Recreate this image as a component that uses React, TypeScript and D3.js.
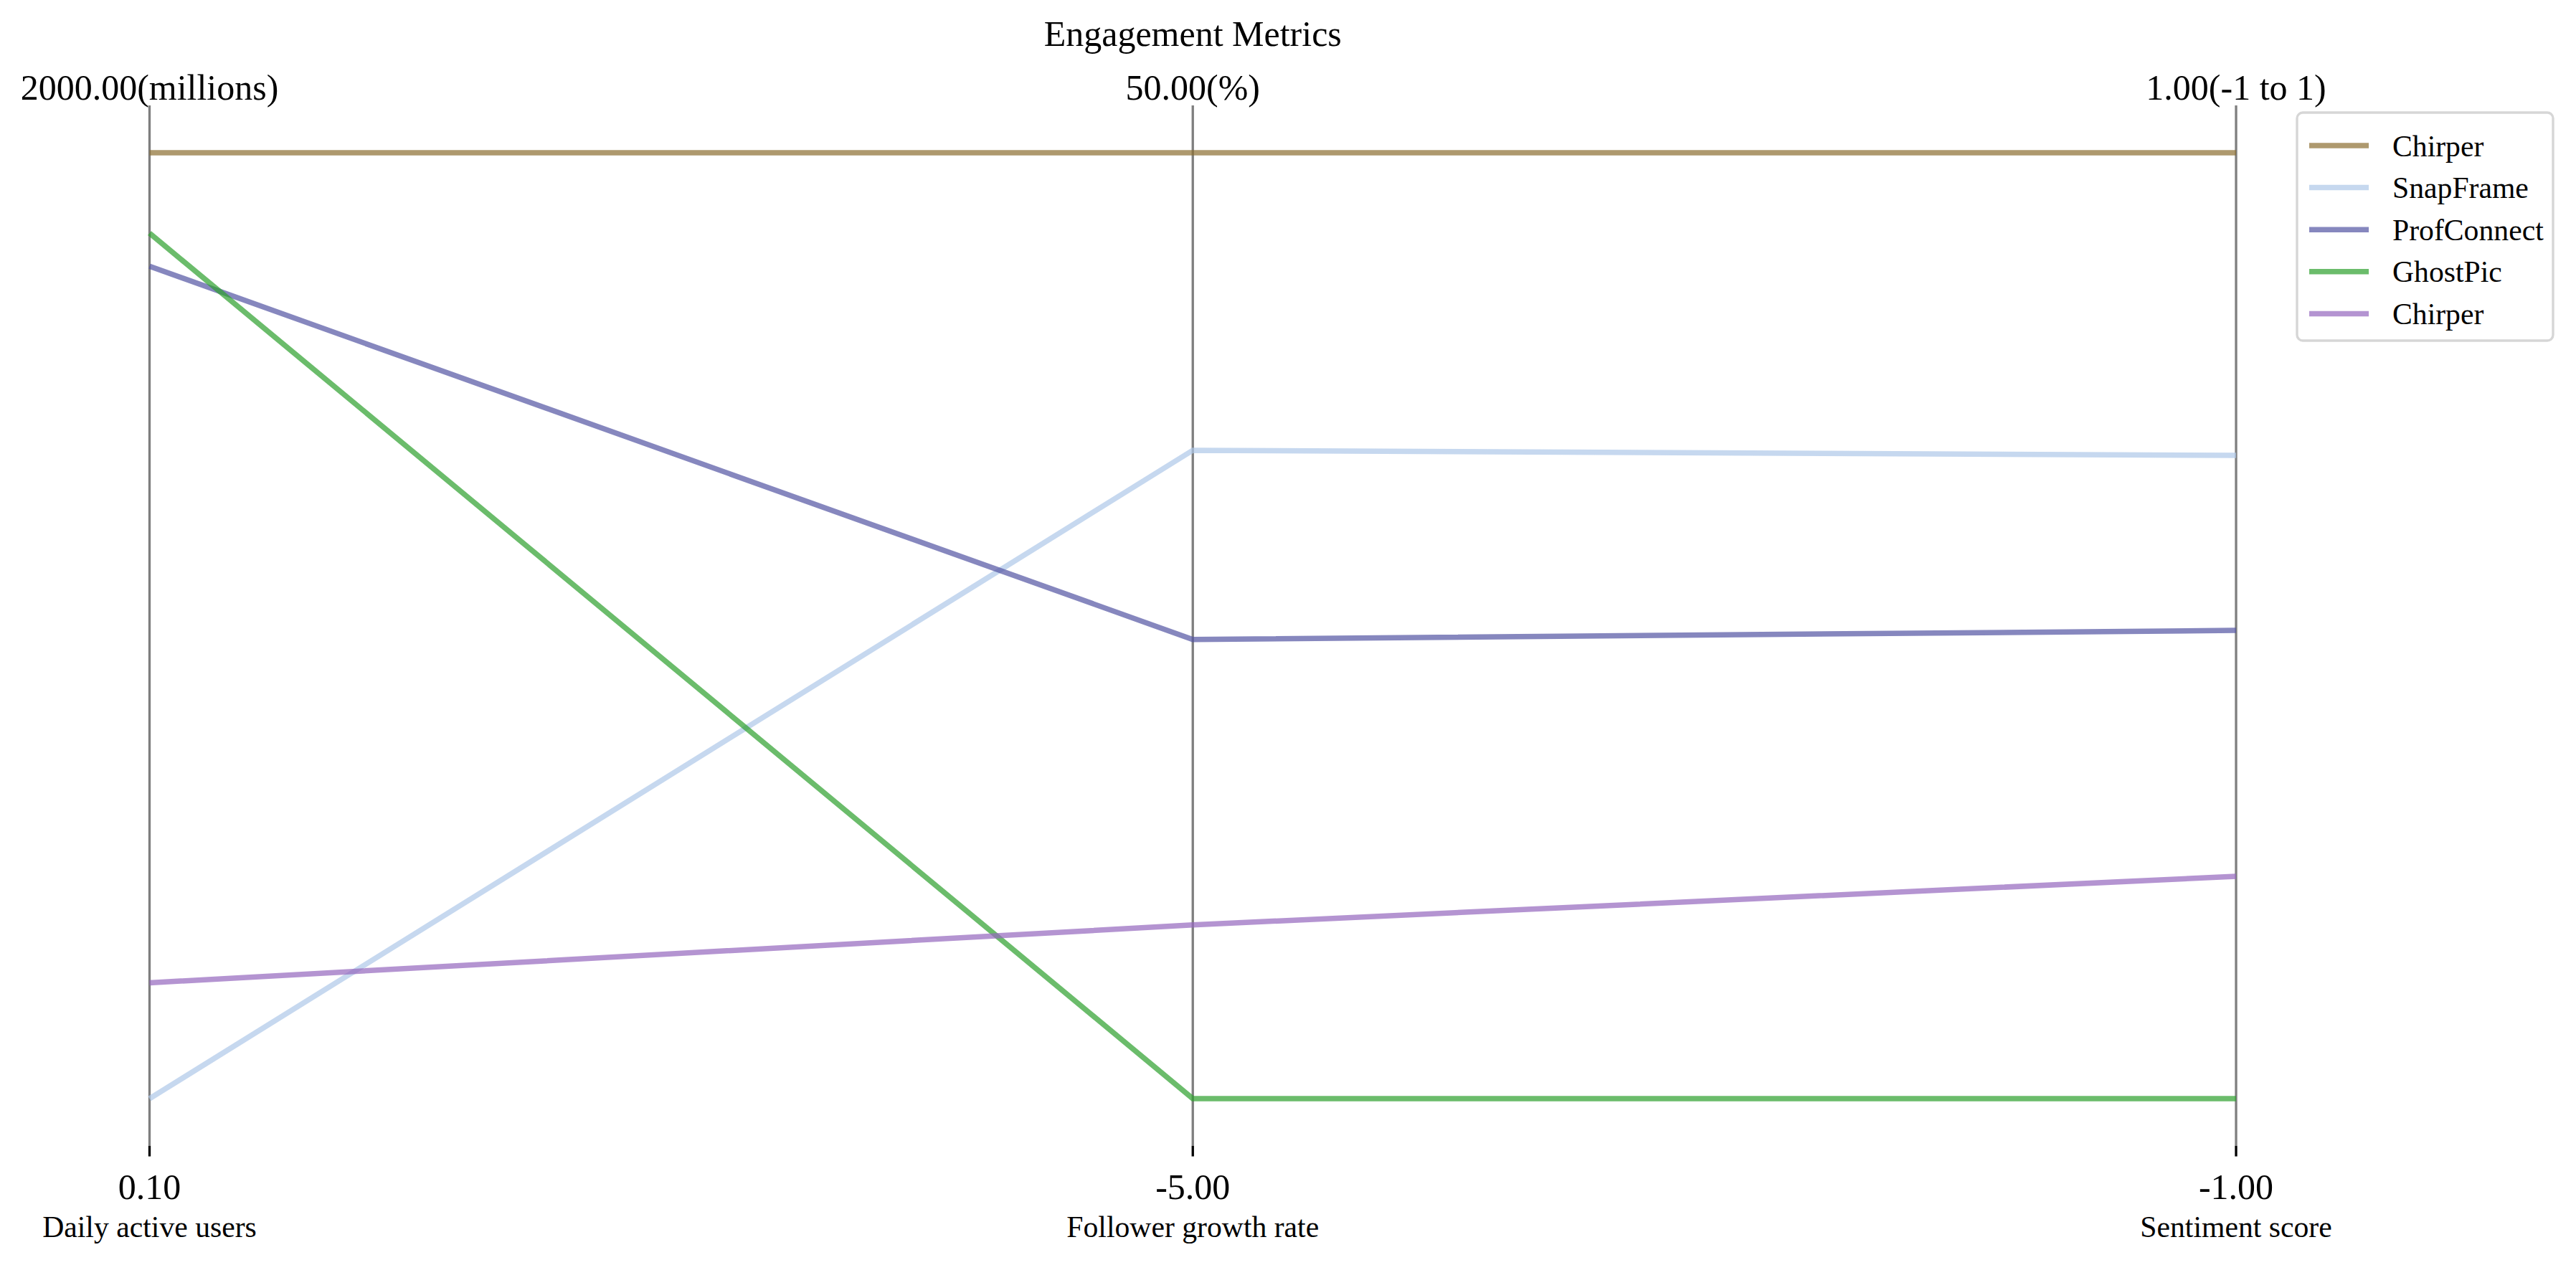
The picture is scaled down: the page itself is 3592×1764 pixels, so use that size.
import React from 'react';
import * as d3 from 'd3';

// data
const platforms = ['Chirper', 'SnapFrame', 'ProfConnect', 'GhostPic', 'Chirper'];
const dailyActiveUsers = [2000, 0.1, 1760, 1830, 245];
const followerGrowth = [50, 32.7, 21.7, -5, 5.1];
const sentiment = [1, 0.36, -0.01, -1, -0.53];

const dimensions = ['Daily active users', 'Follower growth rate', 'Sentiment score'];
const units = ['millions', '%', '-1 to 1'];
const colors = ['#8c6d31', '#aec7e8', '#5254a3', '#2ca02c', '#9467bd'];

const W = 3592;
const H = 1764;
const FONT = '"Liberation Serif", "Times New Roman", serif';

const App = () => {
  const columns = [dailyActiveUsers, followerGrowth, sentiment];

  const x = d3.scalePoint().domain(dimensions).range([208.5, 3118]);

  // one y scale per axis, data spans min..max with a 5% pad for the axis line
  const yTop = 213;
  const yBot = 1532;
  const yScales = columns.map(col =>
    d3.scaleLinear().domain(d3.extent(col) as [number, number]).range([yBot, yTop])
  );
  const pad = (yBot - yTop) * 0.05;

  const rows = platforms.map((name, i) => ({
    name,
    color: colors[i],
    values: columns.map(col => col[i])
  }));

  const line = d3.line<number>()
    .x((d, j) => x(dimensions[j]) as number)
    .y((d, j) => yScales[j](d));

  const legendX = 3203;
  const legendY = 157;
  const rowH = 58.6;

  return (
    <div style={{ position: 'fixed', left: 0, top: 0 }}>
      <svg width={W} height={H} style={{ display: 'block', background: '#fff' }}>
        <text x={x(dimensions[1])} y={64} textAnchor="middle" fontFamily={FONT} fontSize={50}>
          Engagement Metrics
        </text>

        {/* axes */}
        {dimensions.map((dim, j) => {
          const ax = x(dim) as number;
          const [lo, hi] = yScales[j].domain();
          return (
            <g key={dim}>
              <line x1={ax} x2={ax} y1={yTop - pad} y2={yBot + pad} stroke="#000" strokeOpacity={0.5} strokeWidth={3.33} />
              <line x1={ax} x2={ax} y1={yBot + pad} y2={yBot + pad + 14.6} stroke="#000" strokeWidth={3.33} />
              <text x={ax} y={139} textAnchor="middle" fontFamily={FONT} fontSize={50}>
                {`${hi.toFixed(2)}(${units[j]})`}
              </text>
              <text x={ax} y={1672} textAnchor="middle" fontFamily={FONT} fontSize={50}>
                {lo.toFixed(2)}
              </text>
              <text x={ax} y={1725} textAnchor="middle" fontFamily={FONT} fontSize={41.7}>
                {dim}
              </text>
            </g>
          );
        })}

        {/* series lines */}
        {rows.map((r, i) => (
          <path key={i} d={line(r.values) as string} fill="none" stroke={r.color} strokeOpacity={0.7} strokeWidth={7.5} />
        ))}

        {/* legend */}
        <rect x={legendX} y={legendY} width={357} height={318} rx={8} fill="#fff" fillOpacity={0.8}
          stroke="#ccc" strokeOpacity={0.8} strokeWidth={3.33} />
        {rows.map((r, i) => {
          const cy = legendY + 46 + i * rowH;
          return (
            <g key={'lg' + i}>
              <line x1={legendX + 17} x2={legendX + 100} y1={cy} y2={cy} stroke={r.color} strokeOpacity={0.7} strokeWidth={7.5} />
              <text x={legendX + 133} y={cy} dy="0.35em" fontFamily={FONT} fontSize={41.7}>
                {r.name}
              </text>
            </g>
          );
        })}
      </svg>
    </div>
  );
};

export default App;
